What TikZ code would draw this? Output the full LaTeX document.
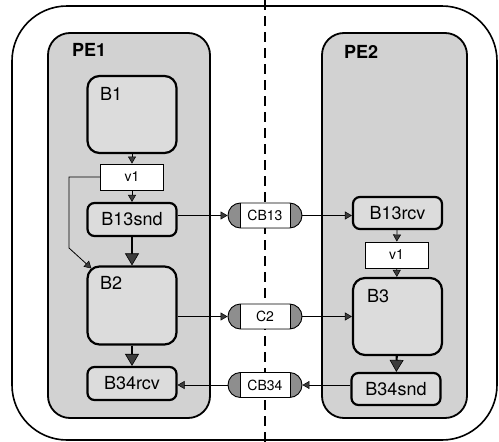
\documentclass[tikz,border=0pt]{standalone}
\usepackage{fontspec}
\setmainfont{TeX Gyre Heros}
\usepackage{tikz}
\usetikzlibrary{arrows.meta,calc,positioning,shapes.misc}
\usepackage{xcolor}
\definecolor{PeFill}{HTML}{D2D2D2}
\definecolor{BlockFill}{HTML}{DCDCDC}
\definecolor{CapFill}{HTML}{8E8E8E}
\definecolor{TipFill}{HTML}{3C3C3C}

\begin{document}
\begin{tikzpicture}[
  x=1pt,y=-1pt,
  outer/.style={draw=black,line width=1.6pt,rounded corners=55pt},
  pe/.style={draw=black,fill=PeFill,line width=1.8pt,rounded corners=22pt},
  pelabel/.style={font=\bfseries\fontsize{18}{20}\selectfont,anchor=west,inner sep=0pt},
  block/.style={draw=black,fill=BlockFill,line width=2.2pt,rounded corners=12pt,
    minimum width=89pt,inner sep=0pt},
  port/.style={block,rounded corners=7pt,font=\fontsize{18}{20}\selectfont},
  blabel/.style={font=\fontsize{18}{20}\selectfont,anchor=west,inner sep=0pt},
  var/.style={draw=black,fill=white,line width=0.9pt,minimum width=63pt,
    minimum height=26pt,inner sep=0pt,font=\fontsize{14}{16}\selectfont},
  chan/.style={rounded rectangle,draw=black,fill=CapFill,line width=0.9pt,
    minimum width=74pt,minimum height=25pt,inner sep=0pt,
    font=\fontsize{14}{16}\selectfont,
    path picture={
      \fill[white] ([xshift=12pt]path picture bounding box.south west)
        rectangle ([xshift=-12pt]path picture bounding box.north east);
      \draw[line width=0.9pt]
        ([xshift=12pt]path picture bounding box.south west)
        -- ([xshift=12pt]path picture bounding box.north west);
      \draw[line width=0.9pt]
        ([xshift=-12pt]path picture bounding box.south east)
        -- ([xshift=-12pt]path picture bounding box.north east);}},
  flow/.style={-{Triangle[length=7pt,width=8pt,line width=0.5pt,fill=TipFill]},
    line width=0.8pt},
  push/.style={-{Triangle[length=12pt,width=14pt,line width=0.6pt,fill=TipFill]},
    line width=2.2pt},
  divider/.style={draw=black,line width=1.5pt,dash pattern=on 10pt off 6pt}
]
\useasboundingbox (0,0) rectangle (499,442);

% Two processing elements separated by the partition line; channels sit on it.
\draw[outer] (12,6) rectangle (497,440);
\draw[divider] (265,0) -- (265,442);
\draw[pe] (48,33) rectangle (210,418);
\draw[pe] (322,33) rectangle (467,418);
\node[pelabel] (pe1) at (72,50) {PE1};
\node[pelabel] (pe2) at (344,52) {PE2};

% PE1
\node[block,minimum height=77pt] (B1) at (132,114.5) {};
\node[blabel] (B1lab) at (100,94) {B1};
\node[var] (v1a) at (132,177) {v1};
\node[port,minimum height=33pt] (B13snd) at (132,219.5) {B13snd};
\node[block,minimum height=78pt] (B2) at (132,305.5) {};
\node[blabel] (B2lab) at (100,283) {B2};
\node[port,minimum height=33pt] (B34rcv) at (132,383.5) {B34rcv};

% PE2
\node[port,minimum height=32pt] (B13rcv) at (397.5,213) {B13rcv};
\node[var] (v1b) at (396.5,255) {v1};
\node[block,minimum height=77pt] (B3) at (397.5,316.5) {};
\node[blabel] (B3lab) at (367,296) {B3};
\node[port,minimum height=32pt] (B34snd) at (396,389) {B34snd};

% channels
\node[chan] (CB13) at (265,215.5) {CB13};
\node[chan] (C2) at (265,316.5) {C2};
\node[chan] (CB34) at (265,385) {CB34};

\coordinate (bend) at (69,248);

\draw[flow] (B1) -- (v1a);
\draw[flow] (v1a) -- (B13snd);
\draw[push] (B13snd) -- (B2);
\draw[push] (B2) -- (B34rcv);
\draw[flow] (v1a.west) -| (bend) -- ([xshift=5pt,yshift=-3pt]B2.north west);

\draw[flow] (B13rcv) -- (v1b);
\draw[flow] (v1b) -- (B3);
\draw[push] (B3) -- (B34snd);

\draw[flow] (B13snd.east |- CB13.west) -- (CB13.west);
\draw[flow] (CB13.east) -- (CB13.east -| B13rcv.west);
\draw[flow] (B2.east |- C2.west) -- (C2.west);
\draw[flow] (C2.east) -- (C2.east -| B3.west);
\draw[flow] (B34snd.west |- CB34.east) -- (CB34.east);
\draw[flow] (CB34.west) -- (CB34.west -| B34rcv.east);

\end{tikzpicture}
\end{document}
